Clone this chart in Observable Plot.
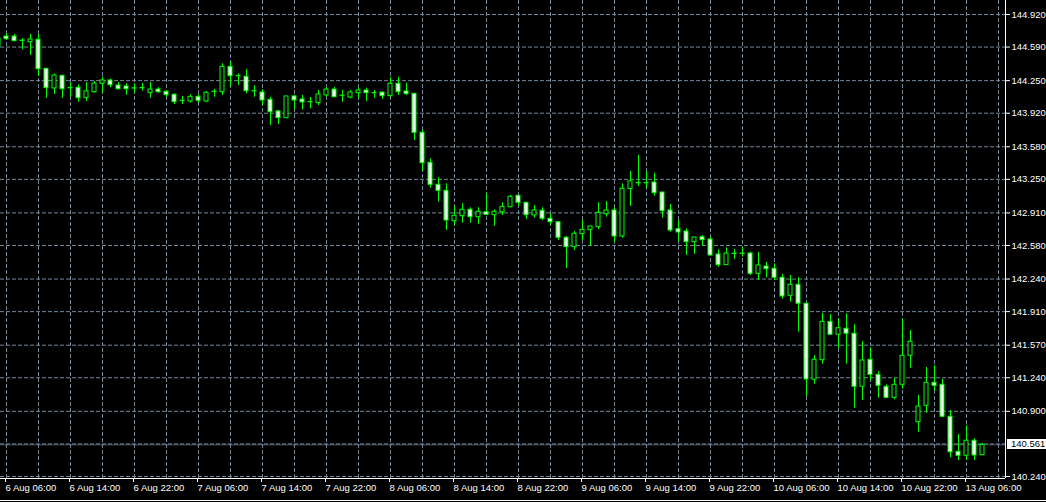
<!DOCTYPE html>
<html>
<head>
<meta charset="utf-8">
<script src="https://cdn.jsdelivr.net/npm/d3@7"></script>
<script src="https://cdn.jsdelivr.net/npm/@observablehq/plot@0.6"></script>
<style>
  html, body { margin: 0; padding: 0; background: #000; overflow: hidden; width: 1046px; height: 502px; }
  #chart svg { display: block; border-bottom: 1px solid #fff; overflow: hidden; }
</style>
</head>
<body>
<div id="chart"></div>
<script>
// H1 bars, index -1 = 6 Aug 05:00 (partly cut at the left edge)
const firstBar = -1;
const opens = [
  144.677,
  144.697,144.697,144.656,144.640,144.664,144.370,144.171,144.299,144.175,144.178,
  144.072,144.133,144.218,144.252,144.201,144.191,144.172,144.175,144.123,144.160,
  144.137,144.107,144.047,144.039,144.086,144.039,144.138,144.133,144.390,144.296,
  144.289,144.144,144.130,144.056,143.938,143.870,144.090,144.059,144.033,144.022,
  144.100,144.160,144.098,144.079,144.123,144.150,144.124,144.130,144.093,144.218,
  144.140,144.117,143.722,143.418,143.195,143.134,142.826,142.877,142.942,142.867,
  142.917,142.887,142.917,142.968,143.084,143.013,142.884,142.932,142.851,142.816,
  142.658,142.563,142.695,142.739,142.765,142.897,142.935,142.671,143.153,143.212,
  143.212,143.218,143.117,142.935,142.745,142.722,142.614,142.664,142.641,142.489,
  142.381,142.497,142.497,142.499,142.293,142.367,142.344,142.253,142.071,142.182,
  141.990,141.220,141.418,141.807,141.676,141.736,141.686,141.149,141.422,141.270,
  141.149,141.037,141.169,141.463,140.790,140.956,141.189,141.169,140.845,140.490,
  140.450,140.602,140.456
];
const highs = [
  144.687,
  144.725,144.718,144.674,144.718,144.718,144.370,144.319,144.299,144.228,144.208,
  144.231,144.241,144.285,144.265,144.231,144.218,144.218,144.221,144.231,144.178,
  144.150,144.117,144.090,144.107,144.107,144.140,144.163,144.421,144.437,144.319,
  144.363,144.198,144.157,144.082,143.948,144.090,144.100,144.100,144.079,144.150,
  144.178,144.181,144.150,144.150,144.178,144.174,144.150,144.130,144.279,144.285,
  144.224,144.117,143.745,143.458,143.266,143.205,142.975,143.003,142.962,142.962,
  143.104,142.942,143.013,143.087,143.084,143.013,142.985,142.962,142.901,142.816,
  142.671,142.722,142.833,142.773,143.013,143.026,142.962,143.205,143.330,143.492,
  143.330,143.313,143.117,142.995,142.833,142.749,142.661,142.681,142.664,142.537,
  142.557,142.540,142.563,142.512,142.509,142.408,142.395,142.286,142.276,142.253,
  141.990,141.466,141.894,141.881,141.834,141.888,141.777,141.608,141.544,141.304,
  141.169,141.236,141.834,141.719,141.061,141.344,141.361,141.223,140.909,140.666,
  140.754,140.622,140.575
];
const lows = [
  144.586,
  144.664,144.644,144.563,144.505,144.292,144.072,144.110,144.072,144.082,144.032,
  144.039,144.123,144.123,144.178,144.157,144.103,144.123,144.143,144.072,144.123,
  144.082,144.008,144.008,144.022,144.022,144.029,144.082,144.100,144.184,144.201,
  144.117,144.082,143.998,143.796,143.806,143.864,143.955,143.955,143.965,143.998,
  144.082,144.082,144.032,144.066,144.072,144.039,144.072,144.059,144.076,144.100,
  144.100,143.644,143.333,143.161,143.019,142.732,142.780,142.806,142.806,142.793,
  142.885,142.776,142.884,142.962,142.975,142.843,142.857,142.833,142.783,142.631,
  142.347,142.530,142.631,142.570,142.742,142.867,142.611,142.654,142.975,143.178,
  143.158,143.080,142.857,142.715,142.621,142.479,142.489,142.570,142.475,142.360,
  142.378,142.438,142.462,142.276,142.226,142.253,142.226,142.036,142.006,141.702,
  141.051,141.175,141.378,141.668,141.530,141.378,140.932,141.010,141.205,141.033,
  141.030,141.017,141.125,141.337,140.689,140.881,141.104,140.841,140.430,140.402,
  140.402,140.402,140.450
];
const closes = [
  144.596,
  144.670,144.650,144.652,144.667,144.366,144.174,144.302,144.163,144.173,144.072,
  144.140,144.221,144.252,144.204,144.163,144.163,144.170,144.173,144.160,144.133,
  144.103,144.032,144.045,144.086,144.046,144.127,144.136,144.390,144.295,144.294,
  144.143,144.142,144.049,143.930,143.870,144.090,144.049,144.029,144.031,144.110,
  144.160,144.082,144.096,144.130,144.150,144.123,144.122,144.093,144.218,144.133,
  144.113,143.722,143.414,143.195,143.134,142.833,142.881,142.942,142.867,142.921,
  142.891,142.921,142.972,143.073,143.013,142.887,142.935,142.851,142.816,142.658,
  142.563,142.699,142.739,142.773,142.911,142.935,142.671,143.155,143.229,143.210,
  143.210,143.110,142.928,142.732,142.712,142.614,142.661,142.634,142.479,142.381,
  142.499,142.495,142.495,142.293,142.378,142.340,142.253,142.064,142.182,141.990,
  141.223,141.422,141.807,141.676,141.742,141.686,141.149,141.415,141.270,141.159,
  141.037,141.169,141.463,141.605,140.949,141.189,141.159,140.845,140.486,140.450,
  140.602,140.453,140.561
];

const xTickIdx = [0, 8, 16, 24, 32, 40, 48, 56, 64, 72, 80, 88, 96, 104, 112, 120];
const xTickLabels = ["6 Aug 06:00", "6 Aug 14:00", "6 Aug 22:00", "7 Aug 06:00",
  "7 Aug 14:00", "7 Aug 22:00", "8 Aug 06:00", "8 Aug 14:00", "8 Aug 22:00",
  "9 Aug 06:00", "9 Aug 14:00", "9 Aug 22:00", "10 Aug 06:00", "10 Aug 14:00",
  "10 Aug 22:00", "13 Aug 06:00"];
const gridXIdx = [0, 4, 8, 12, 16, 20, 24, 28, 32, 36, 40, 44, 48, 52, 56, 60, 64, 68,
  72, 76, 80, 84, 88, 92, 96, 100, 104, 108, 112, 116, 120, 124];
const yTickValues = [140.24, 140.57, 140.90, 141.24, 141.57, 141.91, 142.24, 142.58,
  142.91, 143.25, 143.58, 143.92, 144.25, 144.59, 144.92];
const yTickLabels = ["140.240", "140.570", "140.900", "141.240", "141.570", "141.910",
  "142.240", "142.580", "142.910", "143.250", "143.580", "143.920", "144.250",
  "144.590", "144.920"];
const bidPrice = 140.561;
const bidLabel = "140.561";

const xDomain = [-0.75, 124.875];
const yDomain = [140.2197, 145.0618];

const lime = "#00ff00";
const gridColor = "#778899";
const fontFamily = "'Liberation Sans', Arial, sans-serif";

const bars = opens.map((o, j) => ({ i: j + firstBar, o, h: highs[j], l: lows[j], c: closes[j] }));
const yLabelOf = new Map(yTickValues.map((v, k) => [v, yTickLabels[k]]));
const yAxisTicks = yTickValues.filter(v => Math.abs(v - bidPrice) > 0.05);

const plot = Plot.plot({
  width: 1046,
  height: 500,
  marginLeft: 0,
  marginRight: 41,
  marginTop: 0,
  marginBottom: 22,
  style: {
    background: "#000",
    color: "#fff",
    fontFamily: fontFamily,
    fontSize: "9.5px"
  },
  x: { type: "linear", domain: xDomain, axis: null, label: null },
  y: { type: "linear", domain: yDomain, axis: null, label: null },
  marks: [
    Plot.gridX(gridXIdx, { stroke: gridColor, strokeOpacity: 1, strokeDasharray: "4,2" }),
    Plot.gridY(yTickValues, { stroke: gridColor, strokeOpacity: 1, strokeDasharray: "4,2" }),
    Plot.ruleY([bidPrice], { stroke: "#8a96a6", strokeOpacity: 0.6 }),
    Plot.ruleX(bars, { x: "i", y1: "l", y2: "h", stroke: lime }),
    Plot.rect(bars, {
      x1: d => d.i - 0.25, x2: d => d.i + 0.25,
      y1: "o", y2: "c",
      fill: d => (d.c < d.o ? "#fff" : "#000"),
      stroke: lime
    }),
    Plot.ruleX([xDomain[1]], { stroke: "#fff" }),
    Plot.ruleY([yDomain[0]], { stroke: "#fff" }),
    Plot.axisX(xTickIdx, {
      anchor: "bottom",
      label: null,
      tickSize: 4,
      tickPadding: 2,
      textAnchor: "start",
      dx: -1,
      tickFormat: d => xTickLabels[xTickIdx.indexOf(d)]
    }),
    Plot.axisY(yAxisTicks, {
      anchor: "right",
      label: null,
      tickSize: 4,
      tickPadding: 2,
      tickFormat: d => yLabelOf.get(d)
    })
  ]
});

// bid price box on the price axis, positioned through Plot's own scales
const ys = plot.scale("y"), xs = plot.scale("x");
const yb = ys.apply(bidPrice);
const xr = xs.apply(xDomain[1]);
const svg = d3.select(plot);
const g = svg.append("g").attr("text-anchor", "start");
g.append("rect")
  .attr("x", xr + 2).attr("y", Math.round(yb) - 5)
  .attr("width", 1046 - xr - 2).attr("height", 10)
  .attr("fill", "#fff");
g.append("text")
  .attr("x", xr + 6).attr("y", yb).attr("dy", "0.33em")
  .attr("text-anchor", "start")
  .attr("fill", "#000")
  .attr("font-family", fontFamily)
  .attr("font-size", "9.5px")
  .text(bidLabel);

document.getElementById("chart").appendChild(plot);
</script>
</body>
</html>
